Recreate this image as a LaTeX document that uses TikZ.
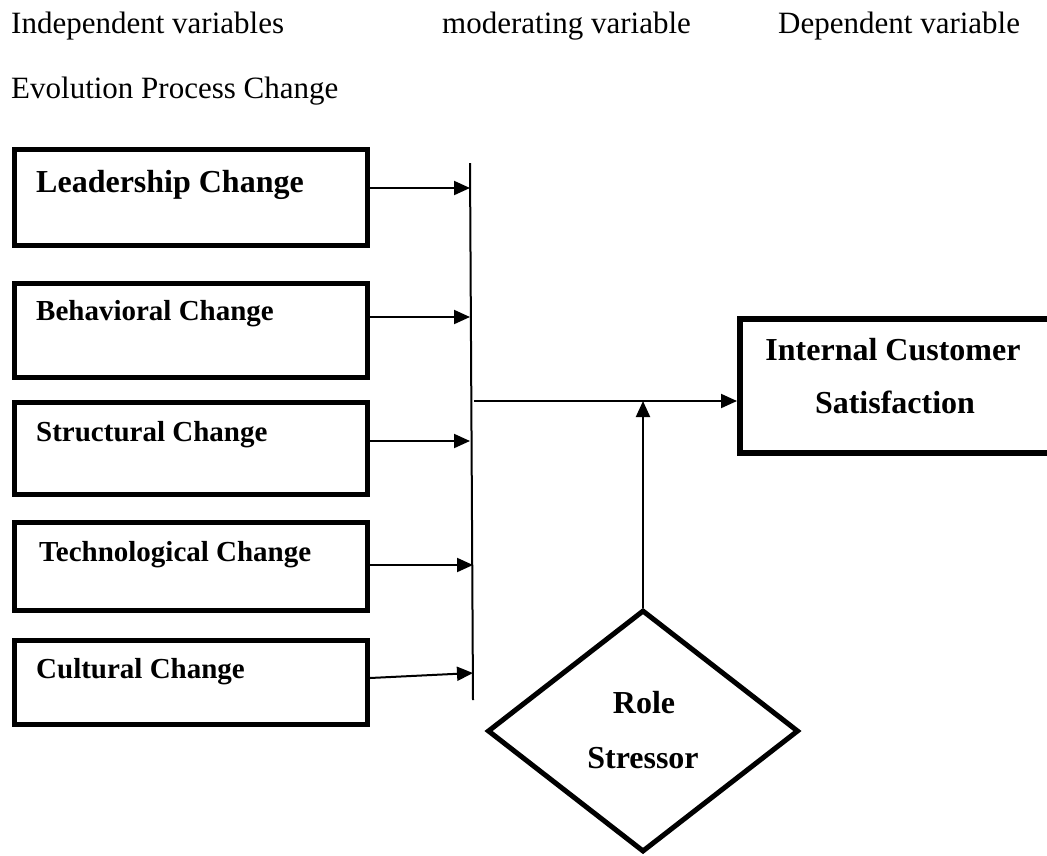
\documentclass[tikz,border=0pt]{standalone}
\usepackage{fontspec}
\setmainfont{Liberation Serif}
\usetikzlibrary{
    positioning,
    arrows.meta,
    shapes.geometric
  }
\tikzset{
  varbox/.style={draw,line width=5pt,minimum width=353pt,inner sep=0pt},
  depbox/.style={draw,line width=6pt,minimum width=360pt,minimum height=134pt,inner sep=0pt},
  modshape/.style={draw,diamond,line width=5pt,aspect=1.29,minimum width=311pt,minimum height=242pt,inner sep=0pt},
  headtext/.style={anchor=base west,inner sep=0pt,font=\fontsize{31pt}{37pt}\selectfont},
  boxtext/.style={anchor=base west,inner sep=0pt,font=\fontsize{29pt}{35pt}\selectfont\bfseries},
  bigtext/.style={inner sep=0pt,font=\fontsize{32pt}{38pt}\selectfont\bfseries},
  arr/.style={line width=2pt,-{Triangle[length=16pt,width=14pt]}},
  bar/.style={line width=2pt}
}

\begin{document}
\begin{tikzpicture}[x=1pt,y=-1pt]
  \useasboundingbox (0,0) rectangle (1047,855);
  \clip (0,0) rectangle (1047,855);
%
  \node[headtext] (indep) at (11,33) {Independent variables};
  \node[headtext] (moder) at (442,33) {moderating variable};
  \node[headtext] (depen) at (778,33) {Dependent variable};
  \node[headtext] (evol) at (11,98) {Evolution Process Change};
%
  \node[varbox,minimum height=96pt] (lead) at (191,197.5) {};
  \node[varbox,minimum height=94pt] (behav) at (191,330.5) {};
  \node[varbox,minimum height=92pt] (struct) at (191,448.5) {};
  \node[varbox,minimum height=88pt] (techno) at (191,566.5) {};
  \node[varbox,minimum height=84pt] (cult) at (191,682.5) {};
  \node[bigtext,anchor=base west] (leadtxt) at (36,192) {Leadership Change};
  \node[boxtext] (behavtxt) at (36,320) {Behavioral Change};
  \node[boxtext] (structtxt) at (36,441) {Structural Change};
  \node[boxtext] (technotxt) at (39,561) {Technological Change};
  \node[boxtext] (culttxt) at (36,678) {Cultural Change};
%
  \coordinate (bartop) at (470,163);
  \coordinate (barbot) at (473,700);
  \draw[bar] (bartop) -- (barbot);
  \draw[arr] (lead.east |- 0,188) -- (bartop |- 0,188);
  \draw[arr] (behav.east |- 0,317) -- (bartop |- 0,317);
  \draw[arr] (struct.east |- 0,441) -- (bartop |- 0,441);
  \draw[arr] (techno.east |- 0,565) -- (barbot |- 0,565);
  \draw[arr] (cult.east |- 0,678) -- (barbot |- 0,673);
%
  \node[depbox] (satis) at (920,386) {};
  \node[bigtext,anchor=base] (satistxt) at (893,360) {Internal Customer};
  \node[bigtext,anchor=base] (satistxtb) at (895,413) {Satisfaction};
  \draw[arr] (474,401) -- (satis.west |- 0,401);
%
  \node[modshape] (role) at (643,731) {};
  \node[bigtext,anchor=base] (roletxt) at (644,713) {Role};
  \node[bigtext,anchor=base] (roletxtb) at (643,768) {Stressor};
  \coordinate (join) at (643,401);
  \draw[arr] (role.north) -- (join);
\end{tikzpicture}
\end{document}
